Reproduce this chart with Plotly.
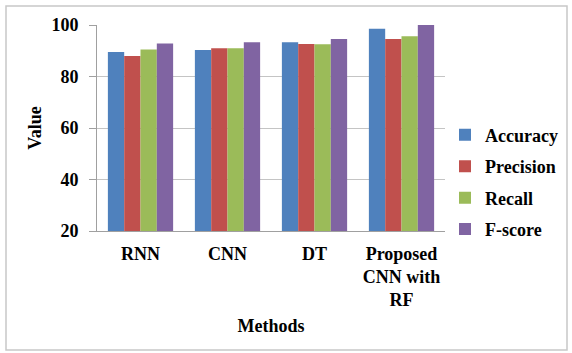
import plotly.graph_objects as go

methods = ["RNN", "CNN", "DT", "Proposed<br>CNN with<br>RF"]
accuracy = [89.5, 90.3, 93.3, 98.5]
precision = [88.0, 91.0, 92.6, 94.6]
recall = [90.5, 91.0, 92.5, 95.6]
fscore = [92.8, 93.3, 94.6, 100.0]

series = [
    ("Accuracy", accuracy, "#4F81BD"),
    ("Precision", precision, "#C0504D"),
    ("Recall", recall, "#9BBB59"),
    ("F-score", fscore, "#8064A2"),
]

font_family = "Liberation Serif, Times New Roman, serif"

fig = go.Figure()
for name, vals, color in series:
    fig.add_trace(go.Bar(
        x=methods, y=vals, name=name, marker_color=color,
        marker_line_width=0, legendgroup=name,
    ))

fig.update_layout(
    width=572, height=353,
    margin=dict(l=97, r=127, t=25, b=122, autoexpand=False),
    paper_bgcolor="white", plot_bgcolor="white",
    barmode="group", bargap=0.25, bargroupgap=0,
    font=dict(family=font_family, size=17, color="#000000"),
    legend=dict(
        x=1.0, y=0.555, xanchor="left", yanchor="top",
        font=dict(family=font_family, size=18, color="#000000", weight="bold"),
        traceorder="grouped", tracegroupgap=5,
        bgcolor="rgba(0,0,0,0)",
    ),
    showlegend=True,
)

fig.update_yaxes(
    range=[20, 100], dtick=20, tick0=20, automargin=False,
    showgrid=True, gridcolor="#C4C4C4", gridwidth=1,
    showline=True, linecolor="#A0A0A0", linewidth=1,
    ticks="outside", ticklen=7, tickcolor="#A0A0A0",
    ticklabelstandoff=7,
    tickfont=dict(family=font_family, size=18, color="#000000", weight="bold"),
    title=dict(text="Value", font=dict(family=font_family, size=18, color="#000000", weight="bold"), standoff=5),
    zeroline=False,
)
fig.update_xaxes(
    automargin=False,
    showline=True, linecolor="#A0A0A0", linewidth=1,
    ticks="", showgrid=False, ticklabelstandoff=6,
    tickfont=dict(family=font_family, size=18, color="#000000", weight="bold"),
    title=dict(text="Methods", font=dict(family=font_family, size=18, color="#000000", weight="bold"), standoff=9),
)

fig.add_shape(
    type="rect", xref="paper", yref="paper",
    x0=(6 - 97) / 348, x1=(567 - 97) / 348,
    y0=(231 - 350) / 206, y1=(231 - 6) / 206,
    line=dict(color="#C8C8C8", width=1.5), fillcolor="rgba(0,0,0,0)", layer="below",
)

fig.write_html("out.html", config={"displayModeBar": False},
               post_script="document.body.style.margin='0';")
